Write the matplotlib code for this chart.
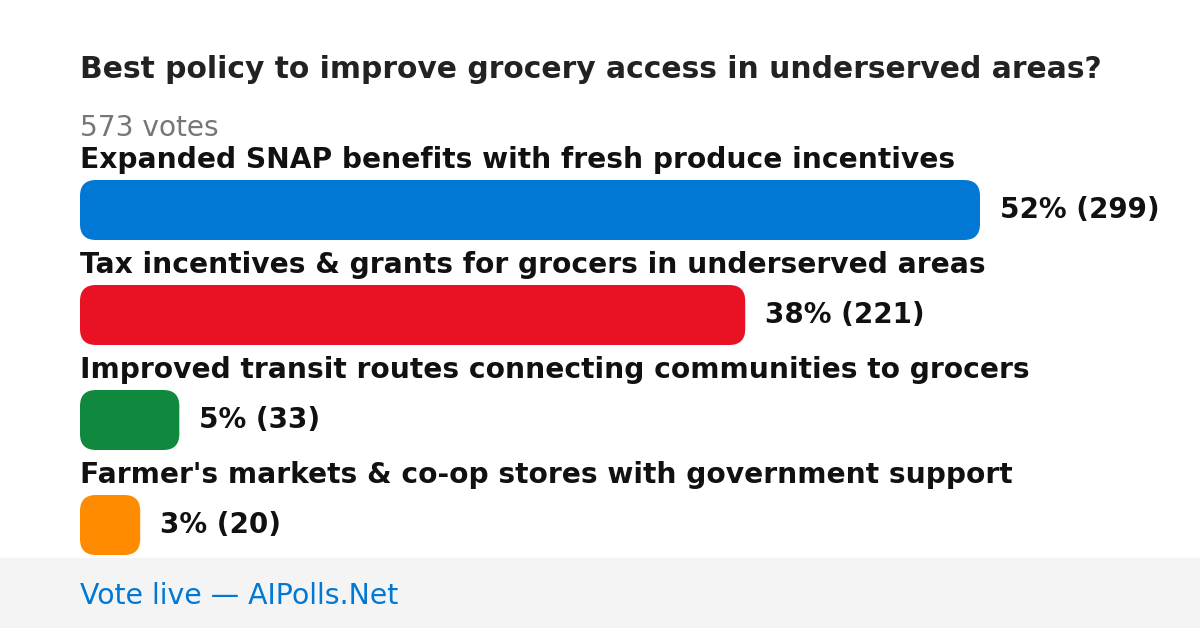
import matplotlib.pyplot as plt
from matplotlib.patches import FancyBboxPatch, Rectangle

title = "Best policy to improve grocery access in underserved areas?"
total_votes = 573
options = [
    "Expanded SNAP benefits with fresh produce incentives",
    "Tax incentives & grants for grocers in underserved areas",
    "Improved transit routes connecting communities to grocers",
    "Farmer's markets & co-op stores with government support",
]
votes = [299, 221, 33, 20]
percents = [52, 38, 5, 3]
colors = ["#0078d4", "#e81224", "#10893e", "#ff8c00"]

W, H = 1200, 628
fig = plt.figure(figsize=(W / 100, H / 100), dpi=100)
ax = fig.add_axes([0, 0, 1, 1])
ax.set_xlim(0, W)
ax.set_ylim(H, 0)
ax.axis("off")

# title and vote count
ax.text(80, 78, title, fontsize=21.4, fontweight="bold", color="#222222", va="baseline")
ax.text(80, 136, f"{total_votes} votes", fontsize=20.2, color="#767676", va="baseline")

# bars
max_w = 900
for i, (opt, v, p, c) in enumerate(zip(options, votes, percents, colors)):
    top = 180 + i * 105
    w = v / max(votes) * max_w
    ax.text(80, top - 12, opt, fontsize=20.25, fontweight="bold", color="#111111", va="baseline")
    bar = FancyBboxPatch((80, top), w, 60, boxstyle="round,pad=0,rounding_size=16",
                         linewidth=0, facecolor=c)
    ax.add_patch(bar)
    ax.text(80 + w + 20, top + 30, f"{p}% ({v})", fontsize=20, fontweight="bold",
            color="#111111", va="center")

# footer
ax.add_patch(Rectangle((0, 558), W, 70, facecolor="#f4f4f4", linewidth=0))
ax.text(80, 604, "Vote live \u2014 AIPolls.Net", fontsize=20.4, color="#0078d4", va="baseline")

fig.savefig("out.png", dpi=100)
